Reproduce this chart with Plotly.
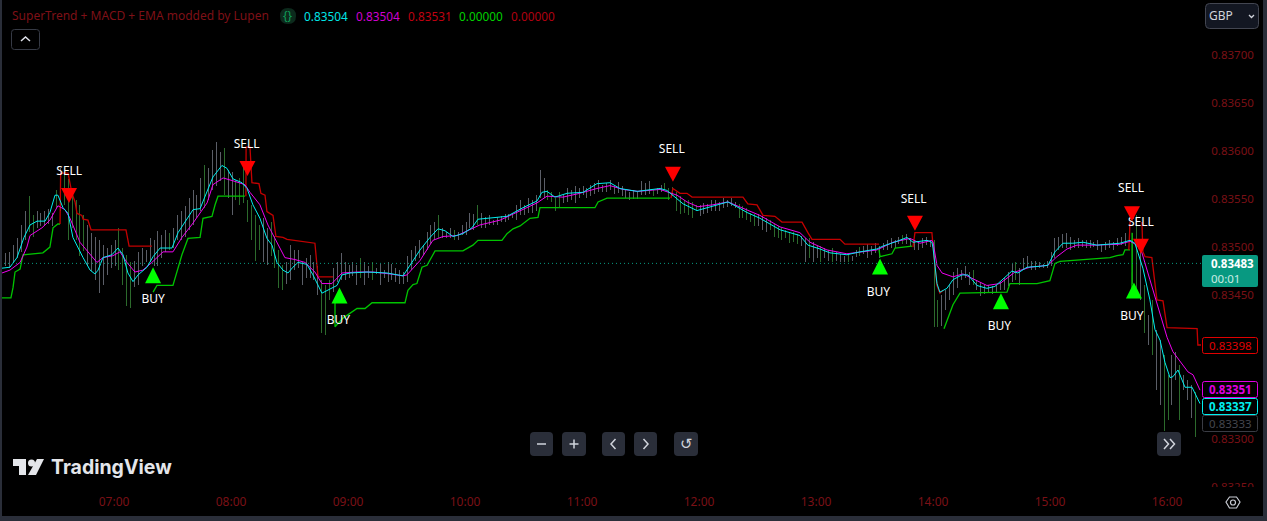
import plotly.graph_objects as go

# ---- price data, in 1e-5 above 0.83000 ----
bar_high = [
 493,494,495,502,509,523,538,553,533,538,
 536,538,540,536,559,582,578,571,561,549,
 544,533,523,515,511,507,502,499,502,507,
 520,499,492,484,486,495,499,497,509,507,
 517,513,518,515,520,533,538,543,551,559,
 554,572,585,582,601,609,599,603,580,578,
 570,572,585,549,544,533,523,530,520,526,
 512,497,481,484,502,497,497,484,489,492,
 484,480,466,460,466,478,484,494,484,481,
 484,481,489,484,480,484,478,482,476,484,
 482,478,476,474,491,497,501,507,502,516,
 523,526,533,520,516,520,518,516,523,526,
 536,534,544,536,531,533,528,531,532,534,
 534,536,544,549,544,551,549,554,580,572,
 559,557,551,557,554,561,559,564,561,564,
 562,565,567,570,565,567,570,564,568,564,
 559,557,559,557,569,567,569,559,562,565,
 567,561,563,557,553,549,549,547,544,544,
 546,545,549,549,547,551,549,551,547,545,
 543,541,536,534,534,532,530,528,524,522,
 520,518,516,516,514,512,509,509,505,501,
 501,499,497,499,495,493,491,493,491,497,
 500,501,503,501,504,501,504,507,509,507,
 511,513,514,509,507,505,509,511,507,507,
 445,450,455,460,474,478,476,480,474,476,
 466,464,460,461,459,461,464,468,474,482,
 484,478,489,491,486,486,484,482,486,495,
 509,511,514,515,511,507,509,507,507,507,
 505,507,503,505,507,505,509,511,515,524,
 515,533,507,460,429,445,414,403,388,367,
 388,391,377,367,362,356,349]
bar_low = [
 478,480,478,484,489,495,507,516,511,520,
 522,522,524,522,541,538,544,507,520,507,
 491,496,480,475,466,452,460,471,478,480,
 476,460,439,437,458,460,480,484,484,480,
 480,489,495,497,499,507,507,511,518,523,
 530,538,541,549,559,564,569,554,551,533,
 549,544,546,526,507,486,497,484,481,491,
 478,457,455,462,466,476,478,460,468,468,
 466,450,411,408,445,453,464,466,466,468,
 470,460,468,460,468,466,472,460,468,464,
 466,464,462,462,464,476,486,489,492,497,
 503,507,509,509,509,509,507,507,513,513,
 520,518,523,520,520,523,523,523,526,526,
 528,530,528,533,533,536,536,538,551,551,
 549,547,538,541,546,547,549,546,551,554,
 551,553,555,557,557,557,559,555,556,553,
 551,549,550,550,554,554,555,553,555,557,
 559,549,553,538,534,536,533,530,538,532,
 534,536,538,538,538,541,542,543,541,530,
 530,528,526,522,522,518,516,518,511,509,
 507,509,504,505,503,501,484,489,484,489,
 484,489,486,484,486,484,484,484,486,490,
 491,493,489,492,494,489,497,497,499,499,
 503,503,503,501,497,497,499,502,500,417,
 417,418,434,445,450,457,466,468,460,460,
 455,449,451,453,451,453,455,455,459,464,
 466,460,476,478,476,476,478,478,478,480,
 489,497,499,499,497,499,499,500,499,499,
 500,497,495,497,499,497,501,502,501,507,
 462,450,445,410,398,388,351,336,308,320,
 336,362,320,351,341,322,302]
down_bars = [7,8,14,16,17,18,19,20,21,30,31,32,33,43,52,57,60,61,62,63,64,65,66,69,70,71,72,
             82,83,84,92,95,112,116,122,140,141,142,143,167,170,171,172,173,174,175,176,177,178,
             189,190,191,192,193,197,198,199,200,201,202,203,204,207,210,213,217,220,231,239,240,
             249,260,290,291,293,295,298,299,302,306]
bar_start_minute = 362.5
bar_step_minutes = 2

cyan_t = [362.5,366.6,370.2,373.8,376.9,380.5,384.6,387.1,389.7,391.2,393.8,396.4,398.9,401.5,404.1,407.7,410.2,411.8,414.3,418.9,422,424.6,427.1,429.7,432.3,436.9,440,443.6,449.7,452.8,457.4,460.5,464.1,468.2,470.7,475.3,477.9,481,485.6,488.2,491.2,494.8,498.4,501,503.5,506.6,509.2,511.7,514.3,518.9,522,526.6,529.7,534.3,536.9,541,549.7,560,568.2,571.8,576.9,582,586.1,589.7,593.8,598.9,603.5,606.6,612.8,621.5,629.7,636.9,639.4,642,646.1,652.3,660.5,667.6,674.3,679.4,688.2,700,703.5,706.6,711.8,718.9,725.6,734.8,739.4,744.6,751.2,761.5,771.7,775.8,782,787.1,795.8,802.5,811.2,814.3,821.5,826.6,829.7,836.9,839.4,840,842,843.5,847.1,850.2,854.8,857.9,862.5,867.6,871.7,876.9,880.4,883.5,888.2,894.8,898.9,902.5,906.6,911.7,916.9,924,935.8,941,943.5,947.6,951.2,953.8,956.4,958.9,961.5,963,965.6,969.2,972.8,976.9]
cyan_v = [478,479,489,510,523,527,527,536,554,554,541,535,510,499,489,476,472,476,489,492,499,492,473,464,471,479,490,499,499,515,530,539,540,561,573,585,582,571,567,561,544,530,509,502,484,476,473,479,484,482,471,452,455,460,471,473,474,473,470,481,497,510,519,517,511,514,520,529,530,532,541,548,557,558,552,556,557,566,567,561,558,561,559,554,545,538,542,547,542,536,530,518,512,502,498,494,492,495,498,501,506,510,505,507,505,499,462,453,457,466,471,471,460,457,459,469,475,473,479,480,481,495,504,504,505,502,504,507,504,478,445,414,403,380,364,365,372,354,354,337]

magenta_t = [362.5,366.6,371.8,375.3,376.9,383,387.1,391.2,394.8,397.4,402.5,406.6,411.2,414.3,419.4,423,426.6,430.7,434.8,439.4,445.1,450.2,454.8,460.5,467.7,470.7,475.9,481,487.1,489.7,494.8,498.9,503.5,507.6,512.8,517.9,523,526.6,531.7,536.9,544.6,552.8,561.5,568.2,570.2,576.9,583.5,588.7,595.9,602.5,607.6,617.9,626.6,636.9,642,650.2,658.9,667.6,674.3,681,688.7,700,708.7,713.8,719.4,727.1,734.8,741,751.2,761.5,771.7,776.9,785.6,795.8,802.5,811.2,819.4,828.2,833.3,839.4,840,842,844.6,850.2,855.3,860.5,867.6,874.3,882,889.7,898.9,903.5,908.7,913.8,924,935.8,941,944.6,947.1,951.2,956.4,960,963,967.6,970.7,973.3,976.9]
magenta_v = [473,476,484,500,512,520,528,543,539,530,505,495,484,489,491,495,484,474,476,484,495,495,510,525,546,565,572,569,565,557,544,523,505,489,487,484,474,462,462,473,474,474,472,470,471,486,507,511,512,518,523,528,536,546,553,552,556,561,564,560,558,560,554,547,542,544,547,542,533,521,515,505,497,493,495,497,505,509,504,507,505,481,473,469,472,467,460,462,474,479,481,490,498,502,502,503,506,502,494,466,431,406,391,379,370,367,351]

green_t = [362.5,367.1,368.2,369.2,371.8,373.3,383.5,387.1,388.7,391.2,392.3,None,
           440,442,450.2,452.3,454.8,457.9,464.1,465.6,470.2,471.8,473.3,487.1,None,
           533.3,533.3,537.4,542,544.6,548.7,552.3,569.2,570.7,573.3,575.3,577.9,580.5,584.6,598.9,604,606.6,618.9,621.5,624.6,628.2,633.3,637.4,638.4,666.6,668.2,672.8,705.1,None,
           812.3,812.8,818.9,820.5,829.2,None,
           845.6,848.7,850.2,853.8,877.9,879.4,893.3,899.9,902.5,905.1,911.7,930.7,934.3,937.4,938.4,941,None,
           942,942.05]
green_v = [447,447,458,474,477,492,494,500,520,524,524,None,
           453,460,460,476,492,509,510,530,532,544,553,553,None,
           442,417,426,432,436,436,442,442,455,461,462,479,481,496,496,502,507,507,514,519,522,530,531,541,541,547,551,551,None,
           497,490,493,499,501,None,
           415,432,440,452,453,462,462,465,483,485,486,489,491,492,497,497,None,
           455,515]

red_t = [392.3,392.6,396.4,398.4,400,401,403.5,404.1,406.6,408.2,426.1,427.7,439.4,None,
         487.6,487.7,489.7,490.7,494.3,495.3,497.4,498.4,501.5,503,506.6,508.7,523,524.6,532.3,None,
         705.6,706.6,710.2,713.8,716.4,742.5,745,749.7,752.8,758.9,762.5,772.8,775.8,777.9,792.3,794.8,812.3,None,
         829.7,830.7,839.4,840,841,842,843.5,845.1,None,
         940.4,941,941.5,None,
         947.1,947.6,948.7,952.2,954.8,957.9,960,975.4,975.8,977.4]
red_v = [524,577,577,556,547,535,533,529,528,518,518,501,501,None,
         553,604,604,567,566,556,554,537,533,511,510,508,504,469,469,None,
         551,561,556,556,552,552,545,544,533,532,526,526,515,508,508,503,503,None,
         500,515,515,504,479,460,452,455,None,
         497,526,526,None,
         526,495,490,489,445,444,416,415,398,398]

sell_t = [396.9,488.4,706.6,830.7,942,946.6]
sell_tip = [546,574,568,517,527,493]
sell_label_t = [397,488,706,830,941.5,946.6]
sell_label_v = [578,606,601,549,560,525]
buy_t = [440,535.6,812.8,874.8,943]
buy_tip = [479,458,488,452,463]
buy_label_t = [440,535,812,874,942]
buy_label_v = [445,423,452,417,427]

x_tick_minutes = [420,480,540,600,660,720,780,840,900,960]
x_tick_labels = ["07:00","08:00","09:00","10:00","11:00","12:00","13:00","14:00","15:00","16:00"]
y_tick_values = [83250,83300,83450,83500,83550,83600,83650,83700]
y_tick_labels = ["0.83250","0.83300","0.83450","0.83500","0.83550","0.83600","0.83650","0.83700"]
last_price = 83483
legend_title = "SuperTrend + MACD + EMA modded by Lupen"
legend_values = ["0.83504","0.83504","0.83531","0.00000","0.00000"]
tag_values = ["0.83398","<b>0.83351</b>","<b>0.83337</b>","0.83333"]


def price(v):
    return None if v is None else (83000 + v) / 1e5


W, H = 1267, 521
PW, PH = 1201, 490
FONT = "Noto Sans"
DARKRED = "#7a1016"
GRAY = "#5b5e67"
DGREEN = "#2c6a2c"
CHROME = "#2a2e39"


def fx(p):
    return p / PW


def fy(p):
    return 1 - p / PH


def rr(x0, y0, x1, y1, r):
    a, b, c, d = fx(x0), fy(y0), fx(x1), fy(y1)
    rx, ry = r / PW, r / PH
    return (f"M{a+rx},{b} L{c-rx},{b} Q{c},{b} {c},{b-ry} L{c},{d+ry} Q{c},{d} {c-rx},{d} "
            f"L{a+rx},{d} Q{a},{d} {a},{d+ry} L{a},{b-ry} Q{a},{b} {a+rx},{b} Z")


def poly(points, close=False):
    s = "M" + " L".join(f"{fx(x)},{fy(y)}" for x, y in points)
    return s + (" Z" if close else "")


shapes = []
annotations = []


def path(d, fill=None, line=None, width=1):
    shapes.append(dict(type="path", xref="paper", yref="paper", path=d,
                       fillcolor=fill or "rgba(0,0,0,0)",
                       line=dict(color=line or "rgba(0,0,0,0)", width=width if line else 0)))


def label(x, y, text, color, size=12, anchor="left", family=FONT, align="left"):
    annotations.append(dict(xref="paper", yref="paper", x=fx(x), y=fy(y), text=text, showarrow=False,
                            xanchor=anchor, yanchor="middle", borderpad=0, align=align,
                            font=dict(color=color, size=size, family=family)))


fig = go.Figure()

# bars
for wanted_down, color in ((False, GRAY), (True, DGREEN)):
    xs, ys = [], []
    for i, (hi, lo) in enumerate(zip(bar_high, bar_low)):
        if (i in down_bars) == wanted_down:
            t = bar_start_minute + bar_step_minutes * i
            xs += [t, t, None]
            ys += [price(hi), price(lo), None]
    fig.add_trace(go.Scatter(x=xs, y=ys, mode="lines", line=dict(color=color, width=1), hoverinfo="skip"))

fig.add_trace(go.Scatter(x=green_t, y=[price(v) for v in green_v], mode="lines",
                         line=dict(color="#00c400", width=1.3), connectgaps=False))
fig.add_trace(go.Scatter(x=red_t, y=[price(v) for v in red_v], mode="lines",
                         line=dict(color="#c40000", width=1.3), connectgaps=False))
fig.add_trace(go.Scatter(x=magenta_t, y=[price(v) for v in magenta_v], mode="lines",
                         line=dict(color="#f000f0", width=1)))
fig.add_trace(go.Scatter(x=cyan_t, y=[price(v) for v in cyan_v], mode="lines",
                         line=dict(color="#00f0f0", width=1)))

# signal labels
fig.add_trace(go.Scatter(x=sell_label_t, y=[price(v) for v in sell_label_v], mode="text",
                         text=["SELL"] * len(sell_label_t), textposition="middle center",
                         textfont=dict(color="#ffffff", size=12, family=FONT)))
fig.add_trace(go.Scatter(x=buy_label_t, y=[price(v) for v in buy_label_v], mode="text",
                         text=["BUY"] * len(buy_label_t), textposition="middle center",
                         textfont=dict(color="#ffffff", size=12, family=FONT)))

# last price line
shapes.append(dict(type="line", xref="paper", yref="y", x0=0, x1=1, y0=last_price / 1e5, y1=last_price / 1e5,
                   line=dict(color="#089981", width=1, dash="1px,3px"), layer="above"))

# signal triangles, anchored on their time and price, sized in pixels
for t, v in zip(sell_t, sell_tip):
    shapes.append(dict(type="path", xref="x", yref="y", xsizemode="pixel", ysizemode="pixel",
                       xanchor=t, yanchor=price(v), path="M-8,15 L8,15 L0,0 Z",
                       fillcolor="#ff0000", line=dict(width=0)))
for t, v in zip(buy_t, buy_tip):
    shapes.append(dict(type="path", xref="x", yref="y", xsizemode="pixel", ysizemode="pixel",
                       xanchor=t, yanchor=price(v), path="M-8,-16 L8,-16 L0,0 Z",
                       fillcolor="#00ff00", line=dict(width=0)))

# hide the lower half of the clipped axis label
path(poly([(1202, 487), (1263, 487), (1263, 516), (1202, 516)], True), fill="#000000")

# frame
path(poly([(0, 0), (2, 0), (2, 521), (0, 521)], True), fill=CHROME)
path(poly([(0, 516), (1267, 516), (1267, 521), (0, 521)], True), fill=CHROME)
path(poly([(1263, 0), (1267, 0), (1267, 521), (1263, 521)], True), fill=CHROME)

# legend
label(11, 16, legend_title, "#7e1017", 12)
path(rr(280, 8, 296, 24, 8), fill="#0c2a1c")
label(288, 16, "{}", "#0f9d58", 12, "center")
for x, text, color in zip((303, 355, 407, 458, 510), legend_values,
                          ("#00e5e5", "#d000d0", "#c00010", "#00d000", "#b00010")):
    label(x, 16, text, color, 11.8)

# collapse button
path(rr(11.5, 29.5, 39.5, 49.5, 3), line="#363a45")
path(poly([(21, 41), (25.5, 37), (30, 41)]), line="#e0e3eb", width=1.5)

# currency box
path(rr(1205.5, 3.5, 1258.5, 28.5, 4), fill="#131722", line="#434651")
label(1208, 16, "GBP", "#d1d4dc", 12)
path(poly([(1249, 15), (1251.5, 17.5), (1254, 15)]), line="#d1d4dc", width=1.3)

# price tags
path(rr(1202, 255, 1258, 287, 2), fill="#089981")
label(1210, 271, "<b>0.83483</b><br><span style='color:#c8ebe3'>00:01</span>", "#ffffff", 11.5, "left")
for text, y0, y1, color, txt in zip(tag_values, (337.5, 381.5, 398.5, 415.5), (353.5, 397.5, 414.5, 431.5),
                                    ("#e00000", "#e000e0", "#00f0f0", "#3a3c44"),
                                    ("#e00000", "#e000e0", "#00f0f0", "#44464e")):
    path(rr(1202.5, y0, 1257.5, y1, 2), fill="#000000", line=color)
    label(1230.5, (y0 + y1) / 2, text, txt, 11.5, "center")

# navigation buttons
for x0, x1 in ((530, 553), (562, 586), (602, 625), (634, 657), (674, 698), (1157, 1181)):
    path(rr(x0, 432, x1, 456, 4), fill=CHROME)
ICON = "#d1d4dc"
path(poly([(537, 444), (546, 444)]), line=ICON, width=1.5)
path(poly([(569.5, 444), (578.5, 444)]), line=ICON, width=1.5)
path(poly([(574, 439.5), (574, 448.5)]), line=ICON, width=1.5)
path(poly([(615.5, 439), (611, 444), (615.5, 449)]), line=ICON, width=1.5)
path(poly([(643.5, 439), (648, 444), (643.5, 449)]), line=ICON, width=1.5)
label(686, 444, "↺", ICON, 15, "center", "DejaVu Sans")
path(poly([(1164, 439), (1168.5, 444), (1164, 449)]), line=ICON, width=1.5)
path(poly([(1170, 439), (1174.5, 444), (1170, 449)]), line=ICON, width=1.5)

# logo
LOGO = "#e4e6ea"
path(poly([(13, 459), (26, 459), (26, 475), (19, 475), (19, 466), (13, 466)], True), fill=LOGO)
path(rr(28, 459.5, 35, 466.5, 3.5), fill=LOGO)
path(poly([(37, 459), (44, 459), (36, 475), (28, 475)], True), fill=LOGO)
label(50, 467, "<b>TradingView</b>", LOGO, 19.5, "left", "Inter")

# settings icon
path(poly([(1226, 502), (1229.5, 497), (1236.5, 497), (1240, 502), (1236.5, 508), (1229.5, 508)], True),
     line="#c8cbd3", width=1.2)
path(rr(1230.5, 500, 1235.5, 505, 2.5), line="#c8cbd3", width=1.2)

fig.update_layout(
    width=W, height=H, margin=dict(l=0, r=W - PW, t=0, b=H - PH, pad=0),
    paper_bgcolor="#000000", plot_bgcolor="#000000", showlegend=False, hovermode=False,
    shapes=shapes, annotations=annotations,
    font=dict(family=FONT, color=DARKRED),
    xaxis=dict(range=[361.5, 977.4], tickmode="array", tickvals=x_tick_minutes, ticktext=x_tick_labels,
               showgrid=False, zeroline=False, showline=False, ticks="", ticklabelstandoff=3,
               tickfont=dict(color=DARKRED, size=12, family=FONT)),
    yaxis=dict(side="right", range=[0.83247, 0.837573], tickmode="array",
               tickvals=[v / 1e5 for v in y_tick_values], ticktext=y_tick_labels,
               showgrid=False, zeroline=False, showline=False, ticks="outside", ticklen=7, tickcolor="#000000",
               tickfont=dict(color=DARKRED, size=11.5, family=FONT)),
)

fig.write_html("out.html", config={"displayModeBar": False},
               post_script="document.body.style.margin='0';document.body.style.overflow='hidden';"
                           "document.querySelectorAll('.scatterlayer .trace:nth-child(-n+2) path.js-line')"
                           ".forEach(function(p){p.style.shapeRendering='crispEdges';});")
